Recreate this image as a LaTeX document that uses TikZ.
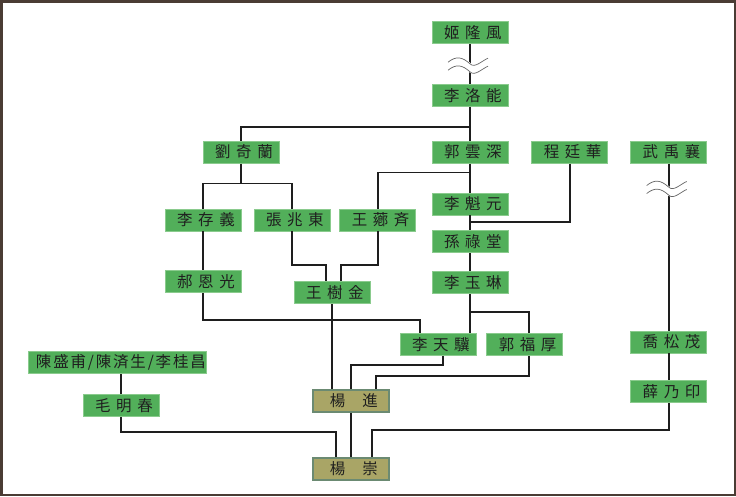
\documentclass[tikz,border=0pt]{standalone}
\usepackage{fontspec}
\usepackage{tikz}
\usetikzlibrary{positioning}

\newfontfamily\cjk[LetterSpace=36]{Noto Sans CJK JP}
\newfontfamily\cjktight[LetterSpace=12]{Noto Sans CJK JP}

\definecolor{boxgreen}{HTML}{52AF5A}
\definecolor{boxedge}{HTML}{8ACB8D}
\definecolor{boxolive}{HTML}{A9A566}
\definecolor{oliveedge}{HTML}{6B8A72}
\definecolor{linecol}{HTML}{1E1E1E}
\definecolor{framecol}{HTML}{4A3C34}
\definecolor{breakcol}{HTML}{666666}

\begin{document}
\begin{tikzpicture}[
			every node/.style={
				draw=boxedge,
				fill=boxgreen,
				line width=0.6pt,
				minimum width=1.9cm,
				minimum height=0.55cm,
				inner sep=0pt,
				text=black!88,
				font=\cjk\fontsize{11}{13}\selectfont,
				execute at begin node={\hspace{4pt}}
			},
			yangbox/.style={
				fill=boxolive,
				draw=oliveedge,
				line width=1.2pt
			},
			link/.style={draw=linecol, line width=1.3pt},
			wavybreak/.pic={
				\draw[white,line width=0.2cm] (-0.55,0) .. controls (-0.35,0.16) and (-0.2,0.14) .. (0,-0.04) .. controls (0.12,-0.16) and (0.3,0.04) .. (0.45,0.1);
				\draw[breakcol,line width=0.5pt,yshift=0.1cm] (-0.55,0) .. controls (-0.35,0.16) and (-0.2,0.14) .. (0,-0.04) .. controls (0.12,-0.16) and (0.3,0.04) .. (0.45,0.1);
				\draw[breakcol,line width=0.5pt,yshift=-0.1cm] (-0.55,0) .. controls (-0.35,0.16) and (-0.2,0.14) .. (0,-0.04) .. controls (0.12,-0.16) and (0.3,0.04) .. (0.45,0.1);
			}
			]
			
			\useasboundingbox (0,0) rectangle (18.4,-12.4);
			
			\draw[framecol,line width=0.065cm] (0.03,-0.03) rectangle (18.37,-12.37);
			
			%%%%%%%%%%%%%%%%%%%%%%%%%%%%%%%%%%%%%%%%%%%%%%%%%%%%%%%%%%%%
			% Main Line
			%%%%%%%%%%%%%%%%%%%%%%%%%%%%%%%%%%%%%%%%%%%%%%%%%%%%%%%%%%%%
			
			\node (ji) at (11.75,-0.81) {姬隆風};
			
			\node (luoneng) [below=1.0cm of ji]
			{李洛能};
			
			\node (guo) [below=0.85cm of luoneng]
			{郭雲深};
			
			\node (kuiyuan) [below=0.725cm of guo]
			{李魁元};
			
			\node (sun) [below=0.375cm of kuiyuan]
			{孫祿堂};
			
			\node (yulin) [below=0.45cm of sun]
			{李玉琳};
			
			%%%%%%%%%%%%%%%%%%%%%%%%%%%%%%%%%%%%%%%%%%%%%%%%%%%%%%%%%%%%
			% Side Masters
			%%%%%%%%%%%%%%%%%%%%%%%%%%%%%%%%%%%%%%%%%%%%%%%%%%%%%%%%%%%%
			
			\node (liu) [left=3.8cm of guo]
			{劉奇蘭};
			
			\node (cheng) [right=0.575cm of guo]
			{程廷華};
			
			\node (wu) [right=0.55cm of cheng]
			{武禹襄};
			
			%%%%%%%%%%%%%%%%%%%%%%%%%%%%%%%%%%%%%%%%%%%%%%%%%%%%%%%%%%%%
			% Liu Branch
			%%%%%%%%%%%%%%%%%%%%%%%%%%%%%%%%%%%%%%%%%%%%%%%%%%%%%%%%%%%%
			
			\node (cunyi) [below=1.125cm of liu, xshift=-0.95cm]
			{李存義};
			
			\node (zhang) [right=0.3cm of cunyi]
			{張兆東};
			
			\node (xiangqi) [right=0.225cm of zhang]
			{王薌斉};
			
			\node (hao) [below=0.975cm of cunyi]
			{郝恩光};
			
			\node (shujin) [below=1.25cm of zhang, xshift=1cm]
			{王樹金};
			
			%%%%%%%%%%%%%%%%%%%%%%%%%%%%%%%%%%%%%%%%%%%%%%%%%%%%%%%%%%%%
			% Li Yulin Branch
			%%%%%%%%%%%%%%%%%%%%%%%%%%%%%%%%%%%%%%%%%%%%%%%%%%%%%%%%%%%%
			
			\node (tianji) [below=0.975cm of yulin, xshift=-0.8cm]
			{李天驥};
			
			\node (fuhou) [right=0.25cm of tianji]
			{郭福厚};
			
			%%%%%%%%%%%%%%%%%%%%%%%%%%%%%%%%%%%%%%%%%%%%%%%%%%%%%%%%%%%%
			% Wu Branch
			%%%%%%%%%%%%%%%%%%%%%%%%%%%%%%%%%%%%%%%%%%%%%%%%%%%%%%%%%%%%
			
			\node (qiao) [below=4.175cm of wu]
			{喬松茂};
			
			\node (xue) [below=0.675cm of qiao]
			{薛乃印};
			
			%%%%%%%%%%%%%%%%%%%%%%%%%%%%%%%%%%%%%%%%%%%%%%%%%%%%%%%%%%%%
			% Left Branch
			%%%%%%%%%%%%%%%%%%%%%%%%%%%%%%%%%%%%%%%%%%%%%%%%%%%%%%%%%%%%
			
			\node (chen) [below=1.45cm of hao, xshift=-2.15cm, minimum width=4.45cm,
				font=\cjktight\fontsize{11}{13}\selectfont, execute at begin node={\hspace{1.3pt}}]
			{陳盛甫/陳済生/李桂昌};
			
			\node (mao) [below=0.5cm of chen, xshift=0.1cm]
			{毛明春};
			
			%%%%%%%%%%%%%%%%%%%%%%%%%%%%%%%%%%%%%%%%%%%%%%%%%%%%%%%%%%%%
			% Yang
			%%%%%%%%%%%%%%%%%%%%%%%%%%%%%%%%%%%%%%%%%%%%%%%%%%%%%%%%%%%%
			
			\node (yangjin) [yangbox, below=2.125cm of shujin, xshift=0.475cm]
			{楊\hspace{1.1em}進};
			
			\node (yangchong) [yangbox, below=1.1cm of yangjin]
			{楊\hspace{1.1em}崇};
			
			%%%%%%%%%%%%%%%%%%%%%%%%%%%%%%%%%%%%%%%%%%%%%%%%%%%%%%%%%%%%
			% Connections
			%%%%%%%%%%%%%%%%%%%%%%%%%%%%%%%%%%%%%%%%%%%%%%%%%%%%%%%%%%%%
			
			% Main line
			
			\draw[link] (ji) -- (luoneng);
			
			\pic at ([yshift=-0.56cm]ji.south) {wavybreak};
			
			\draw[link] (luoneng) -- (guo);
			
			\draw[link] (liu.north) |- ([yshift=0.35cm]guo.north);
			
			\draw[link] (guo) -- (kuiyuan);
			
			\draw[link] (xiangqi.north) |- ([yshift=-0.225cm]guo.south);
			
			\draw[link] (kuiyuan) -- (sun);
			
			\draw[link] (cheng.south) |- ([yshift=-0.175cm]kuiyuan.south);
			
			\draw[link] (sun) -- (yulin);
			
			\draw[link] (yulin.south) -- (yulin.south |- tianji.north);
			
			\draw[link] ([yshift=-0.45cm]yulin.south) -| ([xshift=0.1cm]fuhou.north);
			
			% Liu branch
			
			\draw[link] (liu.south) -- ++(0,-0.5) coordinate (liujoin) -| (cunyi.north);
			
			\draw[link] (liujoin) -| (zhang.north);
			
			\draw[link] (cunyi) -- (hao);
			
			\draw[link] (hao.south) -- ++(0,-0.675) -| ([xshift=-0.45cm]tianji.north);
			
			\draw[link] (zhang.south) -- ++(0,-0.85) -| ([xshift=-0.15cm]shujin.north);
			
			\draw[link] (xiangqi.south) -- ++(0,-0.85) -| ([xshift=0.225cm]shujin.north);
			
			% To Yang Jin
			
			\draw[link] (shujin.south) -- (shujin.south |- yangjin.north);
			
			\draw[link] ([xshift=0.125cm]tianji.south) -- ++(0,-0.225) -| (yangjin.north);
			
			\draw[link] ([xshift=0.1cm]fuhou.south) -- ++(0,-0.5) -| ([xshift=0.625cm]yangjin.north);
			
			% To Yang Chong
			
			\draw[link] (yangjin) -- (yangchong);
			
			\draw[link] (mao.north) -- (mao.north |- chen.south);
			
			\draw[link] (mao.south) -- ++(0,-0.375) -| ([xshift=-0.375cm]yangchong.north);
			
			\draw[link] (xue.south) -- ++(0,-0.675) -| ([xshift=0.525cm]yangchong.north);
			
			% Wu branch
			
			\draw[link] (wu) -- (qiao);
			
			\pic at ([yshift=-0.65cm]wu.south) {wavybreak};
			
			\draw[link] (qiao) -- (xue);
			
			%%%%%%%%%%%%%%%%%%%%%%%%%%%%%%%%%%%%%%%%%%%%%%%%%%%%%%%%%%%%
			
		\end{tikzpicture}
\end{document}
